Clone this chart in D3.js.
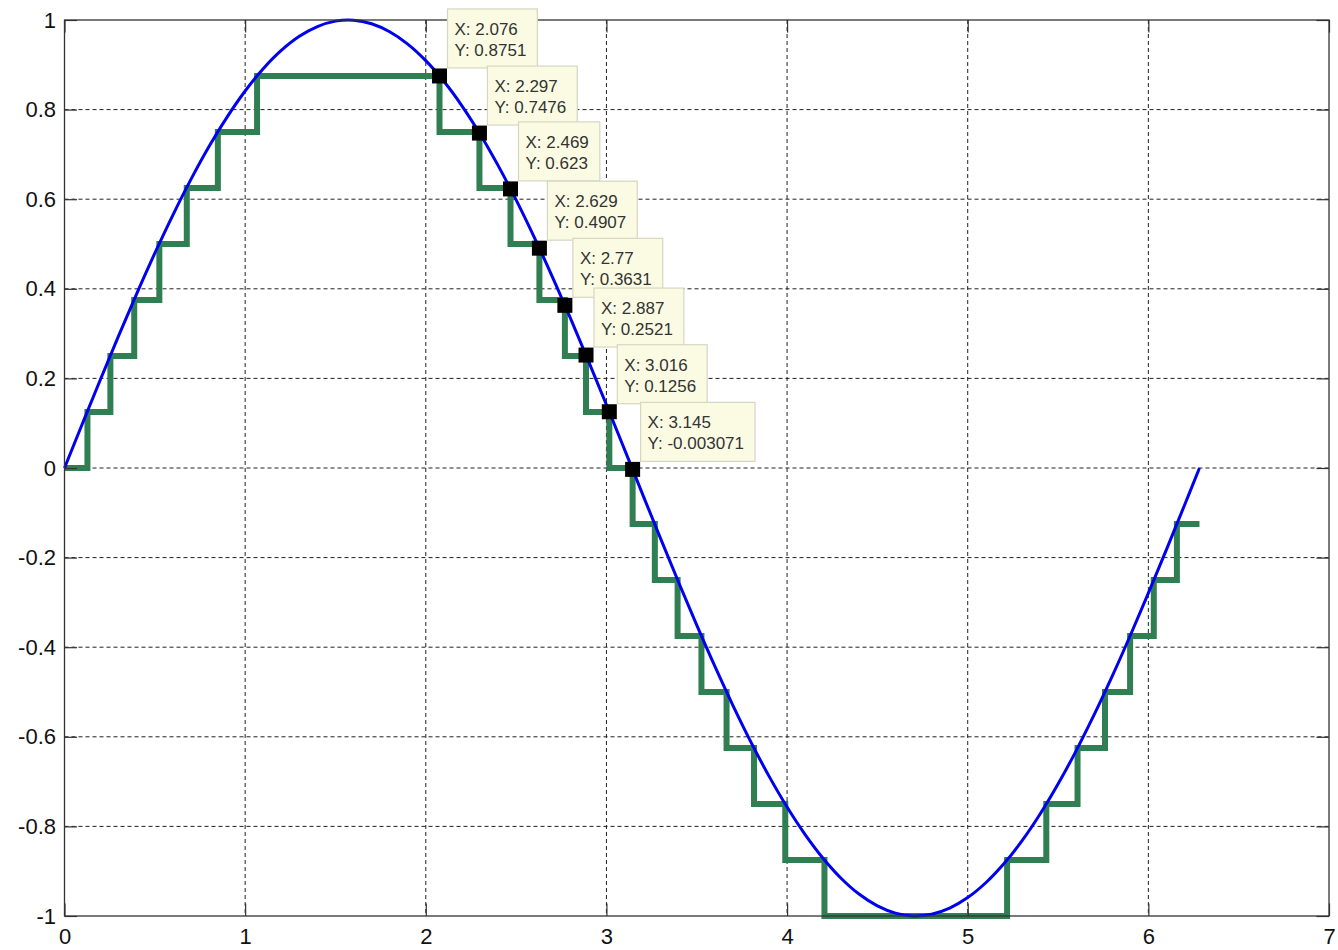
<!DOCTYPE html>
<html>
<head>
<meta charset="utf-8">
<script src="https://cdn.jsdelivr.net/npm/d3@7"></script>
<style>
  html, body { margin: 0; padding: 0; background: #ffffff; }
  svg { display: block; font-family: "Liberation Sans", Arial, sans-serif; }
</style>
</head>
<body>
<svg id="chart" width="1338" height="950"></svg>
<script>
// Continuous signal sampled along x
const curveX = [0, 0.1, 0.2, 0.3, 0.4, 0.5, 0.6, 0.7, 0.8, 0.9, 1.0, 1.1, 1.2, 1.3, 1.4, 1.5, 1.6, 1.7, 1.8, 1.9,
  2.0, 2.1, 2.2, 2.3, 2.4, 2.5, 2.6, 2.7, 2.8, 2.9, 3.0, 3.1, 3.2, 3.3, 3.4, 3.5, 3.6, 3.7, 3.8, 3.9,
  4.0, 4.1, 4.2, 4.3, 4.4, 4.5, 4.6, 4.7, 4.8, 4.9, 5.0, 5.1, 5.2, 5.3, 5.4, 5.5, 5.6, 5.7, 5.8, 5.9,
  6.0, 6.1, 6.2, 6.283];
const curveY = [0, 0.0998, 0.1987, 0.2955, 0.3894, 0.4794, 0.5646, 0.6442, 0.7174, 0.7833, 0.8415, 0.8912, 0.9320, 0.9636, 0.9854, 0.9975, 0.9996, 0.9917, 0.9738, 0.9463,
  0.9093, 0.8632, 0.8085, 0.7457, 0.6755, 0.5985, 0.5155, 0.4274, 0.3350, 0.2392, 0.1411, 0.0416, -0.0584, -0.1577, -0.2555, -0.3508, -0.4425, -0.5298, -0.6119, -0.6878,
  -0.7568, -0.8183, -0.8716, -0.9162, -0.9516, -0.9775, -0.9937, -1.0000, -0.9962, -0.9825, -0.9589, -0.9258, -0.8835, -0.8323, -0.7728, -0.7055, -0.6313, -0.5507, -0.4646, -0.3739,
  -0.2794, -0.1822, -0.0831, 0];

// Quantized (held) signal: x where each level starts, and the level held from there
const stepX = [0, 0.127, 0.254, 0.386, 0.525, 0.677, 0.849, 1.066, 2.076, 2.297, 2.469, 2.629, 2.77, 2.887, 3.016,
  3.145, 3.268, 3.394, 3.526, 3.665, 3.817, 3.990, 4.207, 5.218, 5.435, 5.608, 5.760, 5.899, 6.030, 6.158, 6.283];
const stepLevel = [0, 0.125, 0.25, 0.375, 0.5, 0.625, 0.75, 0.875, 0.75, 0.625, 0.5, 0.375, 0.25, 0.125, 0,
  -0.125, -0.25, -0.375, -0.5, -0.625, -0.75, -0.875, -1, -0.875, -0.75, -0.625, -0.5, -0.375, -0.25, -0.125, -0.125];

// Data cursors
const tipX = [2.076, 2.297, 2.469, 2.629, 2.77, 2.887, 3.016, 3.145];
const tipY = [0.8751, 0.7476, 0.623, 0.4907, 0.3631, 0.2521, 0.1256, -0.003071];

// Axis ticks
const xTicks = [0, 1, 2, 3, 4, 5, 6, 7];
const xTickLabels = ["0", "1", "2", "3", "4", "5", "6", "7"];
const yTicks = [-1, -0.8, -0.6, -0.4, -0.2, 0, 0.2, 0.4, 0.6, 0.8, 1];
const yTickLabels = ["-1", "-0.8", "-0.6", "-0.4", "-0.2", "0", "0.2", "0.4", "0.6", "0.8", "1"];

const svg = d3.select("#chart");
const L = 64.5, R = 1329, T = 20, B = 916;
const tickLen = 12.6;

const x = d3.scaleLinear().domain([0, 7]).range([L, R]);
const y = d3.scaleLinear().domain([-1, 1]).range([B, T]);

// Dashed grid
const grid = svg.append("g").attr("stroke", "#222").attr("stroke-width", 1).attr("stroke-dasharray", "4,3");
grid.selectAll("line.gx").data(xTicks.slice(1, -1)).join("line")
  .attr("x1", d => x(d)).attr("x2", d => x(d)).attr("y1", T).attr("y2", B);
grid.selectAll("line.gy").data(yTicks.slice(1, -1)).join("line")
  .attr("y1", d => y(d)).attr("y2", d => y(d)).attr("x1", L).attr("x2", R);

// Staircase
const stepData = stepX.map((v, i) => [v, stepLevel[i]]);
svg.append("path")
  .datum(stepData)
  .attr("fill", "none")
  .attr("stroke", "#2f7f52")
  .attr("stroke-width", 6)
  .attr("stroke-linejoin", "miter")
  .attr("stroke-linecap", "butt")
  .attr("d", d3.line().x(d => x(d[0])).y(d => y(d[1])).curve(d3.curveStepAfter));

// Continuous curve
const curveData = curveX.map((v, i) => [v, curveY[i]]);
svg.append("path")
  .datum(curveData)
  .attr("fill", "none")
  .attr("stroke", "#0000f0")
  .attr("stroke-width", 3)
  .attr("d", d3.line().x(d => x(d[0])).y(d => y(d[1])).curve(d3.curveCatmullRom));

// Axes with inward ticks
const fmtX = d => xTickLabels[xTicks.indexOf(d)];
const fmtY = d => yTickLabels[yTicks.indexOf(d)];

function styleAxis(g) {
  g.select(".domain").remove();
  g.selectAll(".tick line").attr("stroke", "#333").attr("stroke-width", 1.2);
  g.selectAll(".tick text").attr("fill", "#111").attr("font-size", 22)
    .attr("font-family", "'Liberation Sans', Arial, sans-serif");
}

svg.append("g").attr("transform", `translate(0,${B})`)
  .call(d3.axisBottom(x).tickValues(xTicks).tickFormat(fmtX).tickSize(-tickLen).tickPadding(12))
  .call(styleAxis);
svg.append("g").attr("transform", `translate(0,${T})`)
  .call(d3.axisTop(x).tickValues(xTicks).tickFormat("").tickSize(-tickLen))
  .call(styleAxis);
svg.append("g").attr("transform", `translate(${L},0)`)
  .call(d3.axisLeft(y).tickValues(yTicks).tickFormat(fmtY).tickSize(-tickLen).tickPadding(8.5))
  .call(styleAxis);
svg.append("g").attr("transform", `translate(${R},0)`)
  .call(d3.axisRight(y).tickValues(yTicks).tickFormat("").tickSize(-tickLen))
  .call(styleAxis);

// Axes box
svg.append("rect")
  .attr("x", L).attr("y", T).attr("width", R - L).attr("height", B - T)
  .attr("fill", "none").attr("stroke", "#333").attr("stroke-width", 1.3);

// Data cursor markers and labels
const tips = svg.append("g");
tipX.forEach((tx, i) => {
  const px = x(tx), py = y(tipY[i]);
  const g = tips.append("g");
  g.append("rect")
    .attr("x", px - 7.5).attr("y", py - 7.5).attr("width", 15).attr("height", 15)
    .attr("fill", "#000");
  const boxX = px + 8, boxBottom = py - 8, boxH = 59, boxY = boxBottom - boxH;
  const box = g.append("rect")
    .attr("x", boxX).attr("y", boxY).attr("height", boxH)
    .attr("fill", "#fbfbe4").attr("stroke", "#d6d6c2").attr("stroke-width", 1.2);
  const t1 = g.append("text").attr("x", boxX + 7).attr("y", boxY + 26)
    .attr("font-size", 17).attr("fill", "#333").text("X: " + String(tx));
  const t2 = g.append("text").attr("x", boxX + 7).attr("y", boxY + 47)
    .attr("font-size", 17).attr("fill", "#333").text("Y: " + String(tipY[i]));
  const w = Math.max(t1.node().getComputedTextLength(), t2.node().getComputedTextLength());
  box.attr("width", w + 18);
});
</script>
</body>
</html>
